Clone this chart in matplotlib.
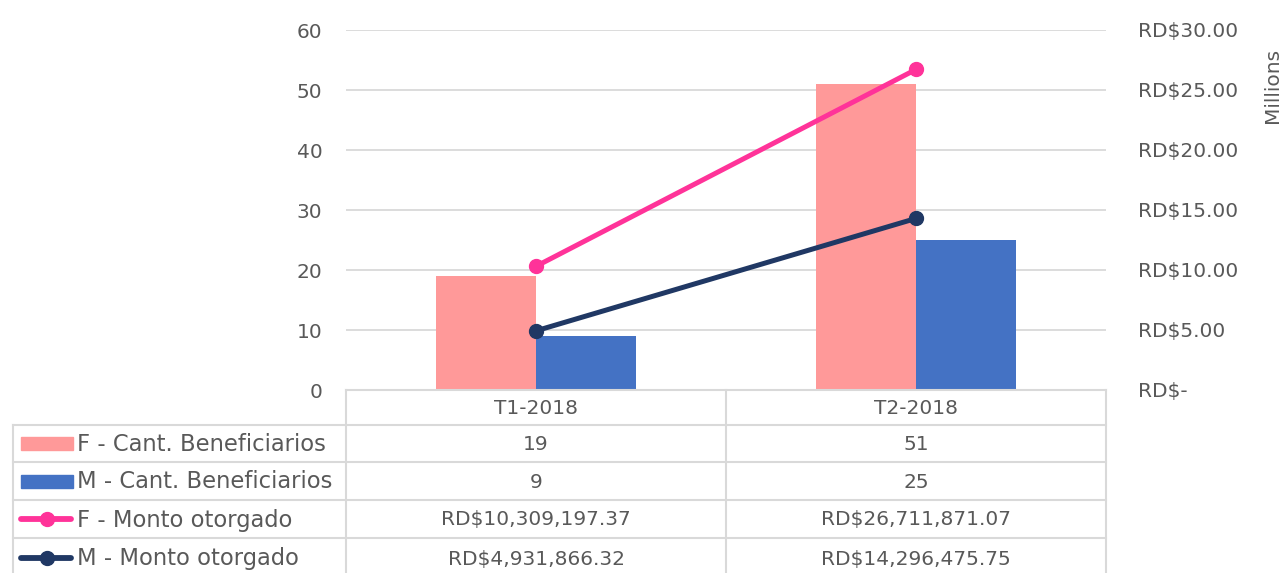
import matplotlib
matplotlib.use("Agg")
import matplotlib.pyplot as plt
from matplotlib.lines import Line2D
from matplotlib.patches import Rectangle
from matplotlib.ticker import FuncFormatter

categories = ["T1-2018", "T2-2018"]
f_cant = [19, 51]
m_cant = [9, 25]
f_monto = [10309197.37, 26711871.07]
m_monto = [4931866.32, 14296475.75]
series_labels = ["F - Cant. Beneficiarios", "M - Cant. Beneficiarios",
                 "F - Monto otorgado", "M - Monto otorgado"]

W, H = 1288, 573
plt.rcParams['font.family'] = ['DejaVu Sans']
FS = 14.5
FS_LAB = 16.3
TXT = '#595959'
GRID = '#d9d9d9'
C_FB = '#FF9999'
C_MB = '#4472C4'
C_FL = '#FF3399'
C_ML = '#203864'

fig = plt.figure(figsize=(W / 100, H / 100), dpi=100)

def fx(x):
    return x / W

def fy(y):
    return 1 - y / H

L, R, T, B = 346, 1106, 30, 390
ax = fig.add_axes([fx(L), fy(B), fx(R) - fx(L), fy(T) - fy(B)])
x = list(range(len(categories)))
bw = 0.263
ax.bar([i - bw / 2 for i in x], f_cant, width=bw, color=C_FB, zorder=2)
ax.bar([i + bw / 2 for i in x], m_cant, width=bw, color=C_MB, zorder=2)
ax.set_xlim(-0.5, 1.5)
ax.set_ylim(0, 60)
ax.set_yticks(range(0, 61, 10))
ax.grid(axis='y', color=GRID, linewidth=1.3, zorder=0)
ax.set_axisbelow(True)
for s in ax.spines.values():
    s.set_visible(False)
ax.tick_params(axis='y', length=0, pad=17, labelsize=FS, labelcolor=TXT)
ax.set_xticks([])

ax2 = ax.twinx()
ax2.plot(x, [v / 1e6 for v in f_monto], color=C_FL, lw=3.6, marker='o', ms=10, zorder=3)
ax2.plot(x, [v / 1e6 for v in m_monto], color=C_ML, lw=3.6, marker='o', ms=10, zorder=3)
ax2.set_ylim(0, 30)
ax2.set_yticks(range(0, 31, 5))
ax2.yaxis.set_major_formatter(FuncFormatter(lambda v, p: "RD$-" if v == 0 else f"RD${v:,.2f}"))
ax2.tick_params(axis='y', length=0, pad=23, labelsize=FS, labelcolor=TXT)
for s in ax2.spines.values():
    s.set_visible(False)
fig.text(fx(1273), fy(85), "Millions", rotation=90, ha='center', va='center',
         fontsize=FS, color=TXT)

# data table
rows_y = [390, 425, 462, 500, 538, 578]
def hline(x0, x1, y):
    fig.add_artist(Line2D([fx(x0), fx(x1)], [fy(y), fy(y)], color=GRID, lw=1.5,
                          transform=fig.transFigure))
def vline(xx, y0, y1):
    fig.add_artist(Line2D([fx(xx), fx(xx)], [fy(y0), fy(y1)], color=GRID, lw=1.5,
                          transform=fig.transFigure))

hline(L, R, rows_y[0])
for y in rows_y[1:]:
    hline(13, R, y)
vline(13, rows_y[1], rows_y[-1])
vline(L, rows_y[0], rows_y[-1])
vline((L + R) / 2, rows_y[0], rows_y[-1])
vline(R, rows_y[0], rows_y[-1])

centers = [L + (R - L) * (i + 0.5) / len(categories) for i in x]
for c, cat in zip(centers, categories):
    fig.text(fx(c), fy((rows_y[0] + rows_y[1]) / 2 + 1), cat, ha='center', va='center',
             fontsize=FS, color=TXT)

table_vals = [
    [str(v) for v in f_cant],
    [str(v) for v in m_cant],
    [f"RD${v:,.2f}" for v in f_monto],
    [f"RD${v:,.2f}" for v in m_monto],
]
key_styles = [('bar', C_FB), ('bar', C_MB), ('line', C_FL), ('line', C_ML)]
for r in range(4):
    ymid = (rows_y[r + 1] + rows_y[r + 2]) / 2
    kind, col = key_styles[r]
    if kind == 'bar':
        fig.add_artist(Rectangle((fx(21), fy(ymid + 6.5)), fx(73) - fx(21), fy(ymid - 6.5) - fy(ymid + 6.5),
                                 color=col, transform=fig.transFigure))
    else:
        fig.add_artist(Line2D([fx(21), fx(71)], [fy(ymid), fy(ymid)], color=col, lw=4.2,
                              solid_capstyle='round', transform=fig.transFigure))
        fig.add_artist(Line2D([fx(47)], [fy(ymid)], color=col, marker='o', ms=10,
                              transform=fig.transFigure))
    fig.text(fx(77), fy(ymid + 1), series_labels[r], ha='left', va='center', fontsize=FS_LAB, color=TXT)
    for c, v in zip(centers, table_vals[r]):
        fig.text(fx(c), fy(ymid + 1), v, ha='center', va='center', fontsize=FS, color=TXT)

fig.savefig("out.png", dpi=100)
